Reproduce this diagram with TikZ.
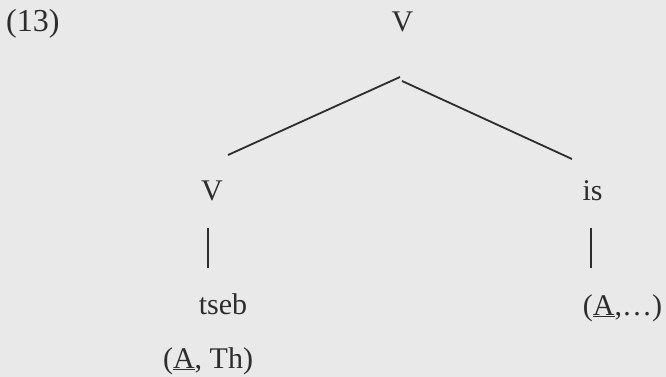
\documentclass[tikz,border=0pt]{standalone}
\usepackage{fontspec}
\setmainfont{Liberation Serif}
\definecolor{bg}{RGB}{233,233,233}
\definecolor{ink}{RGB}{45,45,45}
\begin{document}
\begin{tikzpicture}[x=1pt,y=-1pt,
  lbl/.style={anchor=base,inner sep=0pt,text=ink,font=\fontsize{30}{36}\selectfont},
  edge/.style={draw=ink,line width=1.8pt}]
\fill[bg] (0,0) rectangle (666,377);
\useasboundingbox (0,0) rectangle (666,377);
\node[lbl,anchor=base west,font=\fontsize{32}{38}\selectfont] (ex) at (6,32) {(13)};
\node[lbl] (vtop) at (402.5,32) {V};
\node[lbl] (vleft) at (212,200) {V};
\node[lbl] (is) at (592.5,200) {is};
\node[lbl] (tseb) at (223,314) {tseb};
\node[lbl] (ath) at (208,368) {(\underline{A}, Th)};
\node[lbl] (adots) at (622.5,315) {(\underline{A},…)};
\coordinate (apexL) at (400,77);
\coordinate (apexR) at (402,81);
\coordinate (vlTop) at (228,155);
\coordinate (isTop) at (572,159);
\coordinate (lvA) at (208,228);
\coordinate (lvB) at (208,268);
\coordinate (rvA) at (591,228);
\coordinate (rvB) at (591,268);
\draw[edge] (apexL) -- (vlTop);
\draw[edge] (apexR) -- (isTop);
\draw[edge] (lvA) -- (lvB);
\draw[edge] (rvA) -- (rvB);
\end{tikzpicture}
\end{document}
